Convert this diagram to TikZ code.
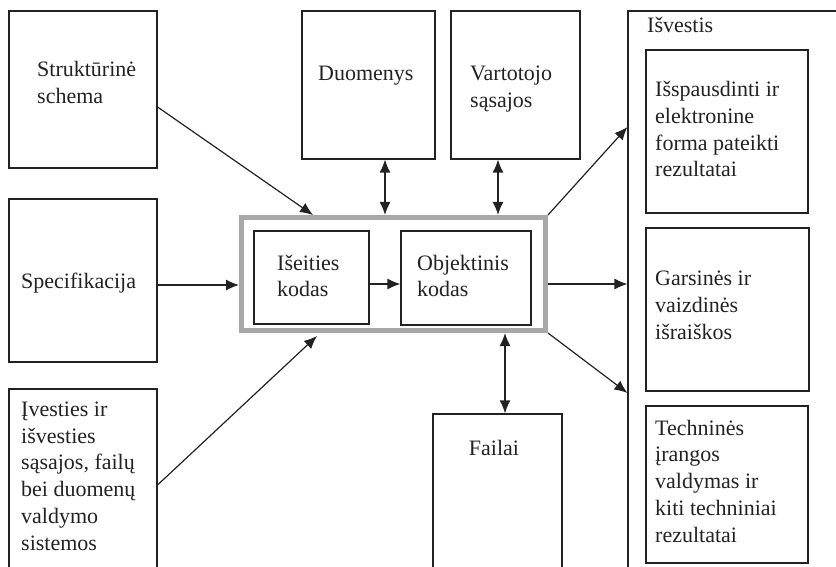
\documentclass[tikz,border=0pt]{standalone}
\usepackage{fontspec}
\setmainfont{Liberation Serif}
\usetikzlibrary{arrows.meta,calc}
\definecolor{framegray}{HTML}{A8A8A8}
\definecolor{ink}{HTML}{222222}
\begin{document}
\begin{tikzpicture}[x=1pt,y=-1pt,
  box/.style={draw=ink,line width=1.1pt,inner sep=0pt,rectangle},
  core/.style={draw=framegray,line width=5pt,inner sep=0pt,rectangle},
  txt/.style={font=\fontsize{22}{26.7}\selectfont,text=ink,inner sep=0pt,align=left,anchor=base west},
  arr/.style={draw=ink,line width=1.2pt,-{Latex[length=13pt,width=11pt]}},
  darr/.style={draw=ink,line width=1.4pt,{Latex[length=13pt,width=11pt]}-{Latex[length=13pt,width=11pt]}}]
\path[use as bounding box,clip] (0,0) rectangle (836,567);
% left column
\node[box,minimum width=148pt,minimum height=157pt] (strukt) at (83,89.5) {};
\node[box,minimum width=148pt,minimum height=163pt] (spec) at (83,280.5) {};
\node[box,minimum width=148pt,minimum height=186pt] (ivest) at (83,482) {};
% top
\node[box,minimum width=133pt,minimum height=148pt] (duom) at (368.5,85) {};
\node[box,minimum width=129pt,minimum height=148pt] (vart) at (515.5,85) {};
% core
\node[core,minimum width=304pt,minimum height=113pt] (core) at (393.5,274) {};
\node[box,minimum width=115pt,minimum height=93pt] (iseit) at (311.5,277.5) {};
\node[box,minimum width=130pt,minimum height=94pt] (objekt) at (466,278) {};
% bottom
\node[box,minimum width=129pt,minimum height=166pt] (failai) at (497.5,497) {};
% output
\node[box,minimum width=222pt,minimum height=569pt] (isvest) at (739,295.5) {};
\node[box,minimum width=162pt,minimum height=163pt] (out1) at (727,131.5) {};
\node[box,minimum width=163pt,minimum height=163pt] (out2) at (727.5,309.5) {};
\node[box,minimum width=162pt,minimum height=157pt] (out3) at (727,484.5) {};
% texts (anchor = baseline of the last line)
\node[txt] (t1) at (37,103.5) {Struktūrinė\\schema};
\node[txt] (t2) at (21,288) {Specifikacija};
\node[txt] (t3) at (21,550) {Įvesties ir\\išvesties\\sąsajos, failų\\bei duomenų\\valdymo\\sistemos};
\node[txt] (t4) at (318,81) {Duomenys};
\node[txt] (t5) at (470,107.5) {Vartotojo\\sąsajos};
\node[txt] (t6) at (277,296.7) {Išeities\\kodas};
\node[txt] (t7) at (417,296.7) {Objektinis\\kodas};
\node[txt] (t8) at (647,33) {Išvestis};
\node[txt] (t9) at (655,177) {Išspausdinti ir\\elektronine\\forma pateikti\\rezultatai};
\node[txt] (t10) at (655,339) {Garsinės ir\\vaizdinės\\išraiškos};
\node[txt] (t11) at (655,542) {Techninės\\įrangos\\valdymas ir\\kiti techniniai\\rezultatai};
\node[txt,anchor=base] (t12) at (494,455) {Failai};
% connectors
\draw[arr] ([yshift=-17.5pt]strukt.east) -- ([xshift=74pt]core.north west);
\draw[arr] ([yshift=-4.5pt]spec.east) -- ([yshift=-4.5pt]spec.east -| core.west);
\draw[arr] ([yshift=-3pt]ivest.east) -- ([xshift=78pt,yshift=-3pt]core.south west);
\draw[darr] ([xshift=16.5pt]duom.south) -- ([xshift=16.5pt]duom.south |- core.north);
\draw[darr] ([xshift=-17.5pt]vart.south) -- ([xshift=-17.5pt]vart.south |- core.north);
\draw[arr] ([yshift=-6.5pt]iseit.east) -- ([yshift=-6.5pt]iseit.east -| objekt.west);
\draw[arr] ([yshift=-10pt]core.east) -- ([yshift=-10pt]core.east -| isvest.west);
\draw[arr] (core.north east) -- ([yshift=168.5pt]isvest.west);
\draw[arr] (core.south east) -- ([yshift=-97.5pt]isvest.west);
\draw[darr] ([xshift=7.5pt]failai.north) -- ([xshift=7.5pt]failai.north |- core.south);
\end{tikzpicture}
\end{document}
